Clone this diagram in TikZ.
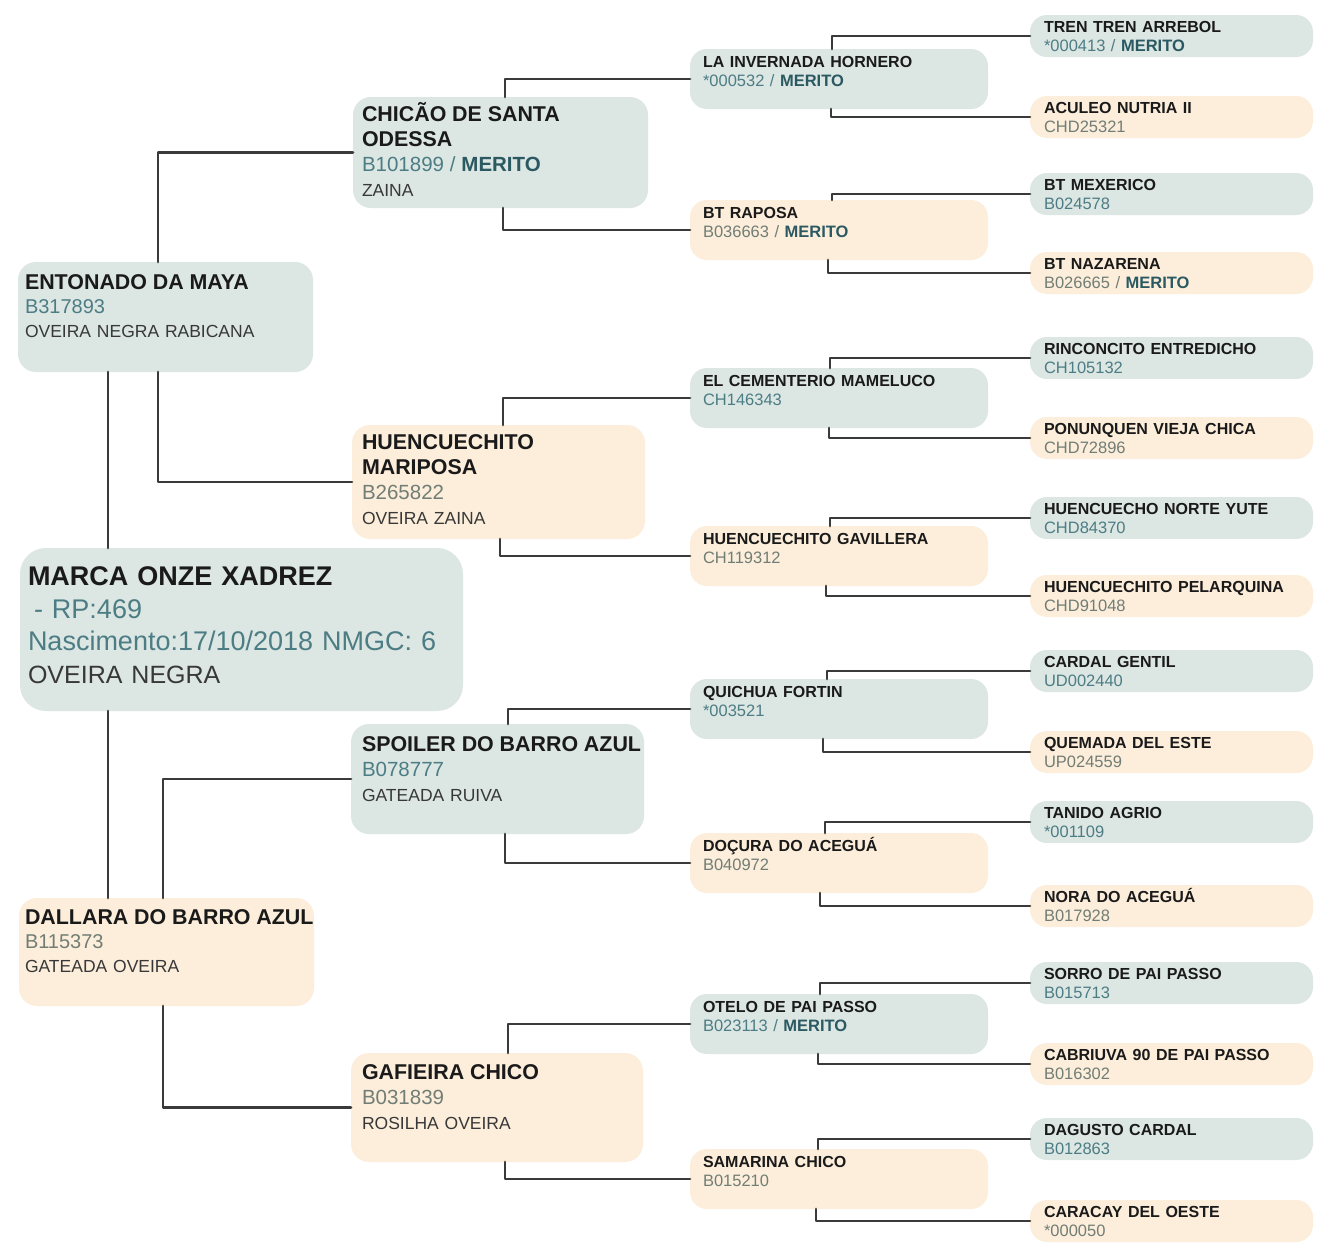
\documentclass[tikz,border=0pt]{standalone}
\usepackage{fontspec}
\setmainfont{Liberation Sans}
\usepackage{tikz}
\definecolor{sireC}{HTML}{DCE6E3}
\definecolor{damC}{HTML}{FCEEDB}
\definecolor{linkC}{HTML}{3A3A3A}
\definecolor{nameC}{HTML}{1A1A1A}
\definecolor{coatC}{HTML}{383838}
\definecolor{codeS}{HTML}{4C7D84}
\definecolor{codeD}{HTML}{717D75}
\definecolor{meritC}{HTML}{2B5962}
\tikzstyle{every path}=[line cap=round,line join=round]
\tikzstyle{sire}=[fill=sireC,inner sep=0pt,outer sep=0pt,anchor=north west]
\tikzstyle{dam}=[sire,fill=damC]
\tikzstyle{gA}=[minimum width=295pt,minimum height=110pt,rounded corners=18pt]
\tikzstyle{gC}=[minimum width=298pt,minimum height=60pt,rounded corners=17pt]
\tikzstyle{gD}=[minimum width=283pt,minimum height=42pt,rounded corners=17pt]
\tikzstyle{txt}=[anchor=base west,align=left,inner sep=0pt,outer sep=0pt,text=nameC]
\tikzstyle{tA}=[txt,text width=300pt,font=\fontsize{17.5}{24}\selectfont]
\tikzstyle{tB}=[txt,text width=300pt,font=\fontsize{17.5}{25}\selectfont]
\tikzstyle{tC}=[txt,text width=280pt,font=\fontsize{16.5}{19}\selectfont]
\tikzstyle{link}=[draw=linkC,line width=2.9pt]
% name, code (sire / dam), merito, coat
\newcommand{\nm}[2][16]{{\fontsize{#1}{#1}\selectfont\bfseries\color{nameC}#2}}
\newcommand{\cs}[2][16.5]{{\fontsize{#1}{#1}\selectfont\color{codeS}#2}}
\newcommand{\cdm}[2][16.5]{{\fontsize{#1}{#1}\selectfont\color{codeD}#2}}
\newcommand{\mer}[1][16.5]{{\fontsize{#1}{#1}\selectfont\bfseries\color{meritC}MERITO}}
\newcommand{\pel}[1]{{\color{coatC}#1}}
\begin{document}
\begin{tikzpicture}[x=1pt,y=-1pt]
\fill[white] (0,0) rectangle (1339,1258);
\useasboundingbox (0,0) rectangle (1339,1258);

% the horse
\node[sire,minimum width=443pt,minimum height=163pt,rounded corners=26pt] (marca) at (20,548) {};
\node[txt,text width=440pt,font=\fontsize{27}{32.5}\selectfont] (marca-t) at ([xshift=8pt,yshift=-37.5pt]marca.north west)
  {\textbf{MARCA ONZE XADREZ}\\{\color{codeS}\hspace*{6pt}- RP:469}\\{\color{codeS}Nascimento:17/10/2018 NMGC: 6}\\{\fontsize{25}{25}\selectfont\color{coatC}OVEIRA NEGRA}};

% parents
\node[sire,gA] (entonado) at (18,262) {};
\node[tA] (entonado-t) at ([xshift=7pt,yshift=-27.5pt]entonado.north west) {\nm[21.4]{ENTONADO DA MAYA}\\\cs[20]{B317893}\\\pel{OVEIRA NEGRA RABICANA}};
\node[dam,gA,minimum height=108pt] (dallara) at (19,898) {};
\node[tA] (dallara-t) at ([xshift=6pt,yshift=-26.5pt]dallara.north west) {\nm[21.4]{DALLARA DO BARRO AZUL}\\\cdm[20]{B115373}\\\pel{GATEADA OVEIRA}};

% grandparents
\node[sire,gA,minimum height=111pt] (chicao) at (353,97) {};
\node[tB] (chicao-t) at ([xshift=9pt,yshift=-24.5pt]chicao.north west) {\nm[21.4]{CHICÃO DE SANTA}\\\nm[21.4]{ODESSA}\\\cs[20.5]{B101899 / }\mer[20.5]\\\pel{ZAINA}};
\node[dam,gA,minimum width=293pt,minimum height=114pt] (mariposa) at (352,425) {};
\node[tB] (mariposa-t) at ([xshift=10pt,yshift=-24.5pt]mariposa.north west) {\nm[21.4]{HUENCUECHITO}\\\nm[21.4]{MARIPOSA}\\\cdm[20.5]{B265822}\\\pel{OVEIRA ZAINA}};
\node[sire,gA,minimum width=293pt] (spoiler) at (351,724) {};
\node[tB] (spoiler-t) at ([xshift=11pt,yshift=-27pt]spoiler.north west) {\nm[21.4]{SPOILER DO BARRO AZUL}\\\cs[20.5]{B078777}\\\pel{GATEADA RUIVA}};
\node[dam,gA,minimum width=292pt,minimum height=109pt] (gafieira) at (351,1053) {};
\node[tB] (gafieira-t) at ([xshift=11pt,yshift=-26.5pt]gafieira.north west) {\nm[21.4]{GAFIEIRA CHICO}\\\cdm[20.5]{B031839}\\\pel{ROSILHA OVEIRA}};

% great-grandparents
\node[sire,gC] (hornero) at (690,49) {};
\node[tC] (hornero-t) at ([xshift=13pt,yshift=-18.5pt]hornero.north west) {\nm{LA INVERNADA HORNERO}\\\cs{*000532 / }\mer};
\node[dam,gC] (raposa) at (690,200) {};
\node[tC] (raposa-t) at ([xshift=13pt,yshift=-18.5pt]raposa.north west) {\nm{BT RAPOSA}\\\cdm{B036663 / }\mer};
\node[sire,gC] (mameluco) at (690,368) {};
\node[tC] (mameluco-t) at ([xshift=13pt,yshift=-18.5pt]mameluco.north west) {\nm{EL CEMENTERIO MAMELUCO}\\\cs{CH146343}};
\node[dam,gC] (gavillera) at (690,526) {};
\node[tC] (gavillera-t) at ([xshift=13pt,yshift=-18.5pt]gavillera.north west) {\nm{HUENCUECHITO GAVILLERA}\\\cdm{CH119312}};
\node[sire,gC] (quichua) at (690,679) {};
\node[tC] (quichua-t) at ([xshift=13pt,yshift=-18.5pt]quichua.north west) {\nm{QUICHUA FORTIN}\\\cs{*003521}};
\node[dam,gC] (docura) at (690,833) {};
\node[tC] (docura-t) at ([xshift=13pt,yshift=-18.5pt]docura.north west) {\nm{DOÇURA DO ACEGUÁ}\\\cdm{B040972}};
\node[sire,gC] (otelo) at (690,994) {};
\node[tC] (otelo-t) at ([xshift=13pt,yshift=-18.5pt]otelo.north west) {\nm{OTELO DE PAI PASSO}\\\cs{B023113 / }\mer};
\node[dam,gC] (samarina) at (690,1149) {};
\node[tC] (samarina-t) at ([xshift=13pt,yshift=-18.5pt]samarina.north west) {\nm{SAMARINA CHICO}\\\cdm{B015210}};

% great-great-grandparents
\node[sire,gD] (tren) at (1030,15) {};
\node[tC] (tren-t) at ([xshift=14pt,yshift=-17pt]tren.north west) {\nm{TREN TREN ARREBOL}\\\cs{*000413 / }\mer};
\node[dam,gD] (aculeo) at (1030,96) {};
\node[tC] (aculeo-t) at ([xshift=14pt,yshift=-17pt]aculeo.north west) {\nm{ACULEO NUTRIA II}\\\cdm{CHD25321}};
\node[sire,gD] (mexerico) at (1030,173) {};
\node[tC] (mexerico-t) at ([xshift=14pt,yshift=-17pt]mexerico.north west) {\nm{BT MEXERICO}\\\cs{B024578}};
\node[dam,gD] (nazarena) at (1030,252) {};
\node[tC] (nazarena-t) at ([xshift=14pt,yshift=-17pt]nazarena.north west) {\nm{BT NAZARENA}\\\cdm{B026665 / }\mer};
\node[sire,gD] (rinconcito) at (1030,337) {};
\node[tC] (rinconcito-t) at ([xshift=14pt,yshift=-17pt]rinconcito.north west) {\nm{RINCONCITO ENTREDICHO}\\\cs{CH105132}};
\node[dam,gD] (ponunquen) at (1030,417) {};
\node[tC] (ponunquen-t) at ([xshift=14pt,yshift=-17pt]ponunquen.north west) {\nm{PONUNQUEN VIEJA CHICA}\\\cdm{CHD72896}};
\node[sire,gD] (yute) at (1030,497) {};
\node[tC] (yute-t) at ([xshift=14pt,yshift=-17pt]yute.north west) {\nm{HUENCUECHO NORTE YUTE}\\\cs{CHD84370}};
\node[dam,gD] (pelarquina) at (1030,575) {};
\node[tC] (pelarquina-t) at ([xshift=14pt,yshift=-17pt]pelarquina.north west) {\nm{HUENCUECHITO PELARQUINA}\\\cdm{CHD91048}};
\node[sire,gD] (cardal) at (1030,650) {};
\node[tC] (cardal-t) at ([xshift=14pt,yshift=-17pt]cardal.north west) {\nm{CARDAL GENTIL}\\\cs{UD002440}};
\node[dam,gD] (quemada) at (1030,731) {};
\node[tC] (quemada-t) at ([xshift=14pt,yshift=-17pt]quemada.north west) {\nm{QUEMADA DEL ESTE}\\\cdm{UP024559}};
\node[sire,gD] (tanido) at (1030,801) {};
\node[tC] (tanido-t) at ([xshift=14pt,yshift=-17pt]tanido.north west) {\nm{TANIDO AGRIO}\\\cs{*001109}};
\node[dam,gD] (nora) at (1030,885) {};
\node[tC] (nora-t) at ([xshift=14pt,yshift=-17pt]nora.north west) {\nm{NORA DO ACEGUÁ}\\\cdm{B017928}};
\node[sire,gD] (sorro) at (1030,962) {};
\node[tC] (sorro-t) at ([xshift=14pt,yshift=-17pt]sorro.north west) {\nm{SORRO DE PAI PASSO}\\\cs{B015713}};
\node[dam,gD] (cabriuva) at (1030,1043) {};
\node[tC] (cabriuva-t) at ([xshift=14pt,yshift=-17pt]cabriuva.north west) {\nm{CABRIUVA 90 DE PAI PASSO}\\\cdm{B016302}};
\node[sire,gD] (dagusto) at (1030,1118) {};
\node[tC] (dagusto-t) at ([xshift=14pt,yshift=-17pt]dagusto.north west) {\nm{DAGUSTO CARDAL}\\\cs{B012863}};
\node[dam,gD] (caracay) at (1030,1200) {};
\node[tC] (caracay-t) at ([xshift=14pt,yshift=-17pt]caracay.north west) {\nm{CARACAY DEL OESTE}\\\cdm{*000050}};

% connectors
\draw[link] ([xshift=90pt]entonado.south west) -- ([xshift=88pt]marca.north west);
\draw[link] ([xshift=88pt]marca.south west) -- ([xshift=89pt]dallara.north west);
\draw[link] ([xshift=140pt]entonado.north west) |- (chicao.west);
\draw[link] ([xshift=140pt]entonado.south west) |- (mariposa.west);
\draw[link] ([xshift=144pt]dallara.north west) |- (spoiler.west);
\draw[link] ([xshift=144pt]dallara.south west) |- (gafieira.west);

\draw[link] ([xshift=152pt]chicao.north west) |- (hornero.west);
\draw[link] ([xshift=150pt]chicao.south west) |- (raposa.west);
\draw[link] ([xshift=151pt]mariposa.north west) |- (mameluco.west);
\draw[link] ([xshift=148pt]mariposa.south west) |- (gavillera.west);
\draw[link] ([xshift=157pt]spoiler.north west) |- (quichua.west);
\draw[link] ([xshift=154pt]spoiler.south west) |- (docura.west);
\draw[link] ([xshift=157pt]gafieira.north west) |- (otelo.west);
\draw[link] ([xshift=154pt]gafieira.south west) |- (samarina.west);

\draw[link] ([xshift=142pt]hornero.north west) |- (tren.west);
\draw[link] ([xshift=141pt]hornero.south west) |- (aculeo.west);
\draw[link] ([xshift=142pt]raposa.north west) |- (mexerico.west);
\draw[link] ([xshift=138pt]raposa.south west) |- (nazarena.west);
\draw[link] ([xshift=140pt]mameluco.north west) |- (rinconcito.west);
\draw[link] ([xshift=139pt]mameluco.south west) |- (ponunquen.west);
\draw[link] ([xshift=140pt]gavillera.north west) |- (yute.west);
\draw[link] ([xshift=136pt]gavillera.south west) |- (pelarquina.west);
\draw[link] ([xshift=137pt]quichua.north west) |- (cardal.west);
\draw[link] ([xshift=133pt]quichua.south west) |- (quemada.west);
\draw[link] ([xshift=135pt]docura.north west) |- (tanido.west);
\draw[link] ([xshift=130pt]docura.south west) |- (nora.west);
\draw[link] ([xshift=130pt]otelo.north west) |- (sorro.west);
\draw[link] ([xshift=128pt]otelo.south west) |- (cabriuva.west);
\draw[link] ([xshift=128pt]samarina.north west) |- (dagusto.west);
\draw[link] ([xshift=126pt]samarina.south west) |- (caracay.west);
\end{tikzpicture}
\end{document}
